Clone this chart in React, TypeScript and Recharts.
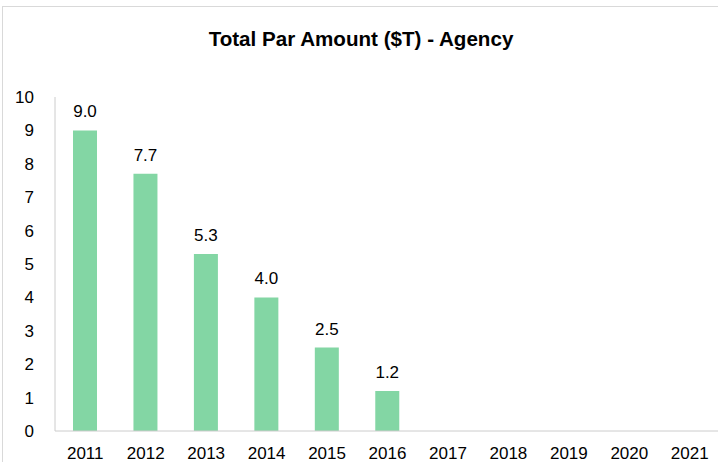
import { BarChart, Bar, XAxis, YAxis, LabelList } from "recharts";

const years = ["2011", "2012", "2013", "2014", "2015", "2016", "2017", "2018", "2019", "2020", "2021"];
const parAmount: (number | null)[] = [9.0, 7.7, 5.3, 4.0, 2.5, 1.2, null, null, null, null, null];
const yTicks = [0, 1, 2, 3, 4, 5, 6, 7, 8, 9, 10];

const FONT = '"Liberation Sans", Arial, sans-serif';
const AXIS = "#cccccc";

export default function App() {
  const data = years.map((y, i) => ({ year: y, value: parAmount[i] }));

  return (
    <div style={{ position: "absolute", left: 0, top: 0, width: 718, height: 462, overflow: "hidden", background: "#fff", fontFamily: FONT }}>
      {/* chart border, right and bottom edges run off the picture */}
      <div style={{ position: "absolute", left: 2, top: 6, width: 800, height: 520, border: "1px solid #d9d9d9" }} />
      <div style={{ position: "absolute", left: 0, top: 29, width: 722, textAlign: "center", fontSize: 20.6, lineHeight: "20px", fontWeight: "bold", color: "#000" }}>
        Total Par Amount ($T) - Agency
      </div>
      <div style={{ position: "absolute", left: 0, top: 0 }}>
        <BarChart width={740} height={462} data={data} margin={{ top: 97, right: 20, bottom: 0, left: 0 }} barSize={24}>
          <XAxis dataKey="year" height={31} tickLine={false} axisLine={{ stroke: AXIS }}
                 tickMargin={10} tick={{ fill: "#000", fontSize: 17, fontFamily: FONT }} interval={0} />
          <YAxis width={55} domain={[0, 10]} ticks={yTicks} tickLine={false} axisLine={{ stroke: AXIS }}
                 tickMargin={15} tick={{ fill: "#000", fontSize: 17, fontFamily: FONT }} interval={0} />
          <Bar dataKey="value" fill="#83d6a4" isAnimationActive={false}>
            <LabelList dataKey="value" position="top" offset={13}
                       formatter={(v: any) => (v == null ? "" : Number(v).toFixed(1))}
                       style={{ fill: "#000", fontSize: 17, fontFamily: FONT }} />
          </Bar>
        </BarChart>
      </div>
    </div>
  );
}
